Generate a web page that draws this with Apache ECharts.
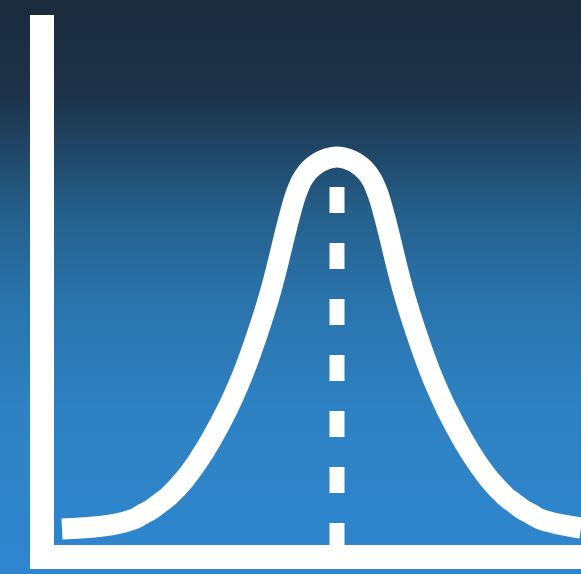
<!DOCTYPE html>
<html lang="en">

<head>
    <meta charset="UTF-8">
    <meta name="viewport" content="width=device-width, initial-scale=1.0">
    <title>Bell curve</title>
    <script src="https://cdn.jsdelivr.net/npm/echarts@6/dist/echarts.min.js"></script>
    <style>
        html, body {
            margin: 0;
            padding: 0;
        }

        #main {
            width: 581px;
            height: 574px;
        }
    </style>
</head>

<body>
    <div id="main"></div>
    <script>
        // Bell curve points (x along the axis, y height above it)
        const curveX = [20, 52, 74, 92, 101, 110, 118, 127, 142, 156, 169, 185, 198.5, 207, 215, 222.5, 229, 235.5, 241.5,
                        246.5, 252, 255.5, 260, 265.5, 270.5, 276, 282, 288,
                        295,
                        302, 308, 314, 319.5, 324.5, 330, 334.5, 338, 343.5, 348.5, 354.5, 361, 367.5, 375, 383,
                        391.5, 405, 421, 434, 448, 463, 472, 480, 489, 498, 516, 539];
        const curveY = [28, 30, 33, 38, 43, 48, 54, 61, 77, 96, 117, 147, 177, 199, 222, 245, 267, 292, 317,
                        337, 357, 367, 377, 385, 390, 394, 397, 399,
                        400,
                        399, 397, 394, 390, 385, 377, 367, 357, 337, 317, 292, 267, 245, 222, 199,
                        177, 147, 117, 96, 77, 61, 54, 48, 43, 38, 33, 29];

        // Dashed marker at the peak
        const peakX = [295, 295];
        const peakY = [370, 12];

        const chart = echarts.init(document.getElementById('main'));

        const axisStyle = {
            show: true,
            onZero: false,
            lineStyle: { color: '#ffffff', width: 24, cap: 'square' }
        };

        const option = {
            animation: false,
            backgroundColor: {
                type: 'linear', x: 0, y: 0, x2: 0, y2: 1,
                colorStops: [
                    { offset: 0, color: '#1b2a3d' },
                    { offset: 0.17, color: '#1d3349' },
                    { offset: 0.28, color: '#214a6c' },
                    { offset: 0.37, color: '#255f8b' },
                    { offset: 0.53, color: '#2a74ad' },
                    { offset: 0.72, color: '#2e82c3' },
                    { offset: 1, color: '#2f86cf' }
                ]
            },
            grid: { left: 42, right: 0, top: 27, bottom: 17 },
            xAxis: {
                type: 'value', min: 0, max: 539,
                axisLine: axisStyle,
                axisTick: { show: false },
                axisLabel: { show: false },
                splitLine: { show: false }
            },
            yAxis: {
                type: 'value', min: 0, max: 530,
                axisLine: axisStyle,
                axisTick: { show: false },
                axisLabel: { show: false },
                splitLine: { show: false }
            },
            series: [
                {
                    type: 'line',
                    data: curveX.map((x, i) => [x, curveY[i]]),
                    smooth: 0.3,
                    showSymbol: false,
                    symbol: 'none',
                    lineStyle: { color: '#ffffff', width: 21, cap: 'butt', join: 'round' }
                },
                {
                    type: 'line',
                    data: peakX.map((x, i) => [x, peakY[i]]),
                    showSymbol: false,
                    symbol: 'none',
                    lineStyle: { color: '#ffffff', width: 15, type: [26, 30], cap: 'butt' }
                }
            ]
        };

        chart.setOption(option);
    </script>
</body>

</html>
